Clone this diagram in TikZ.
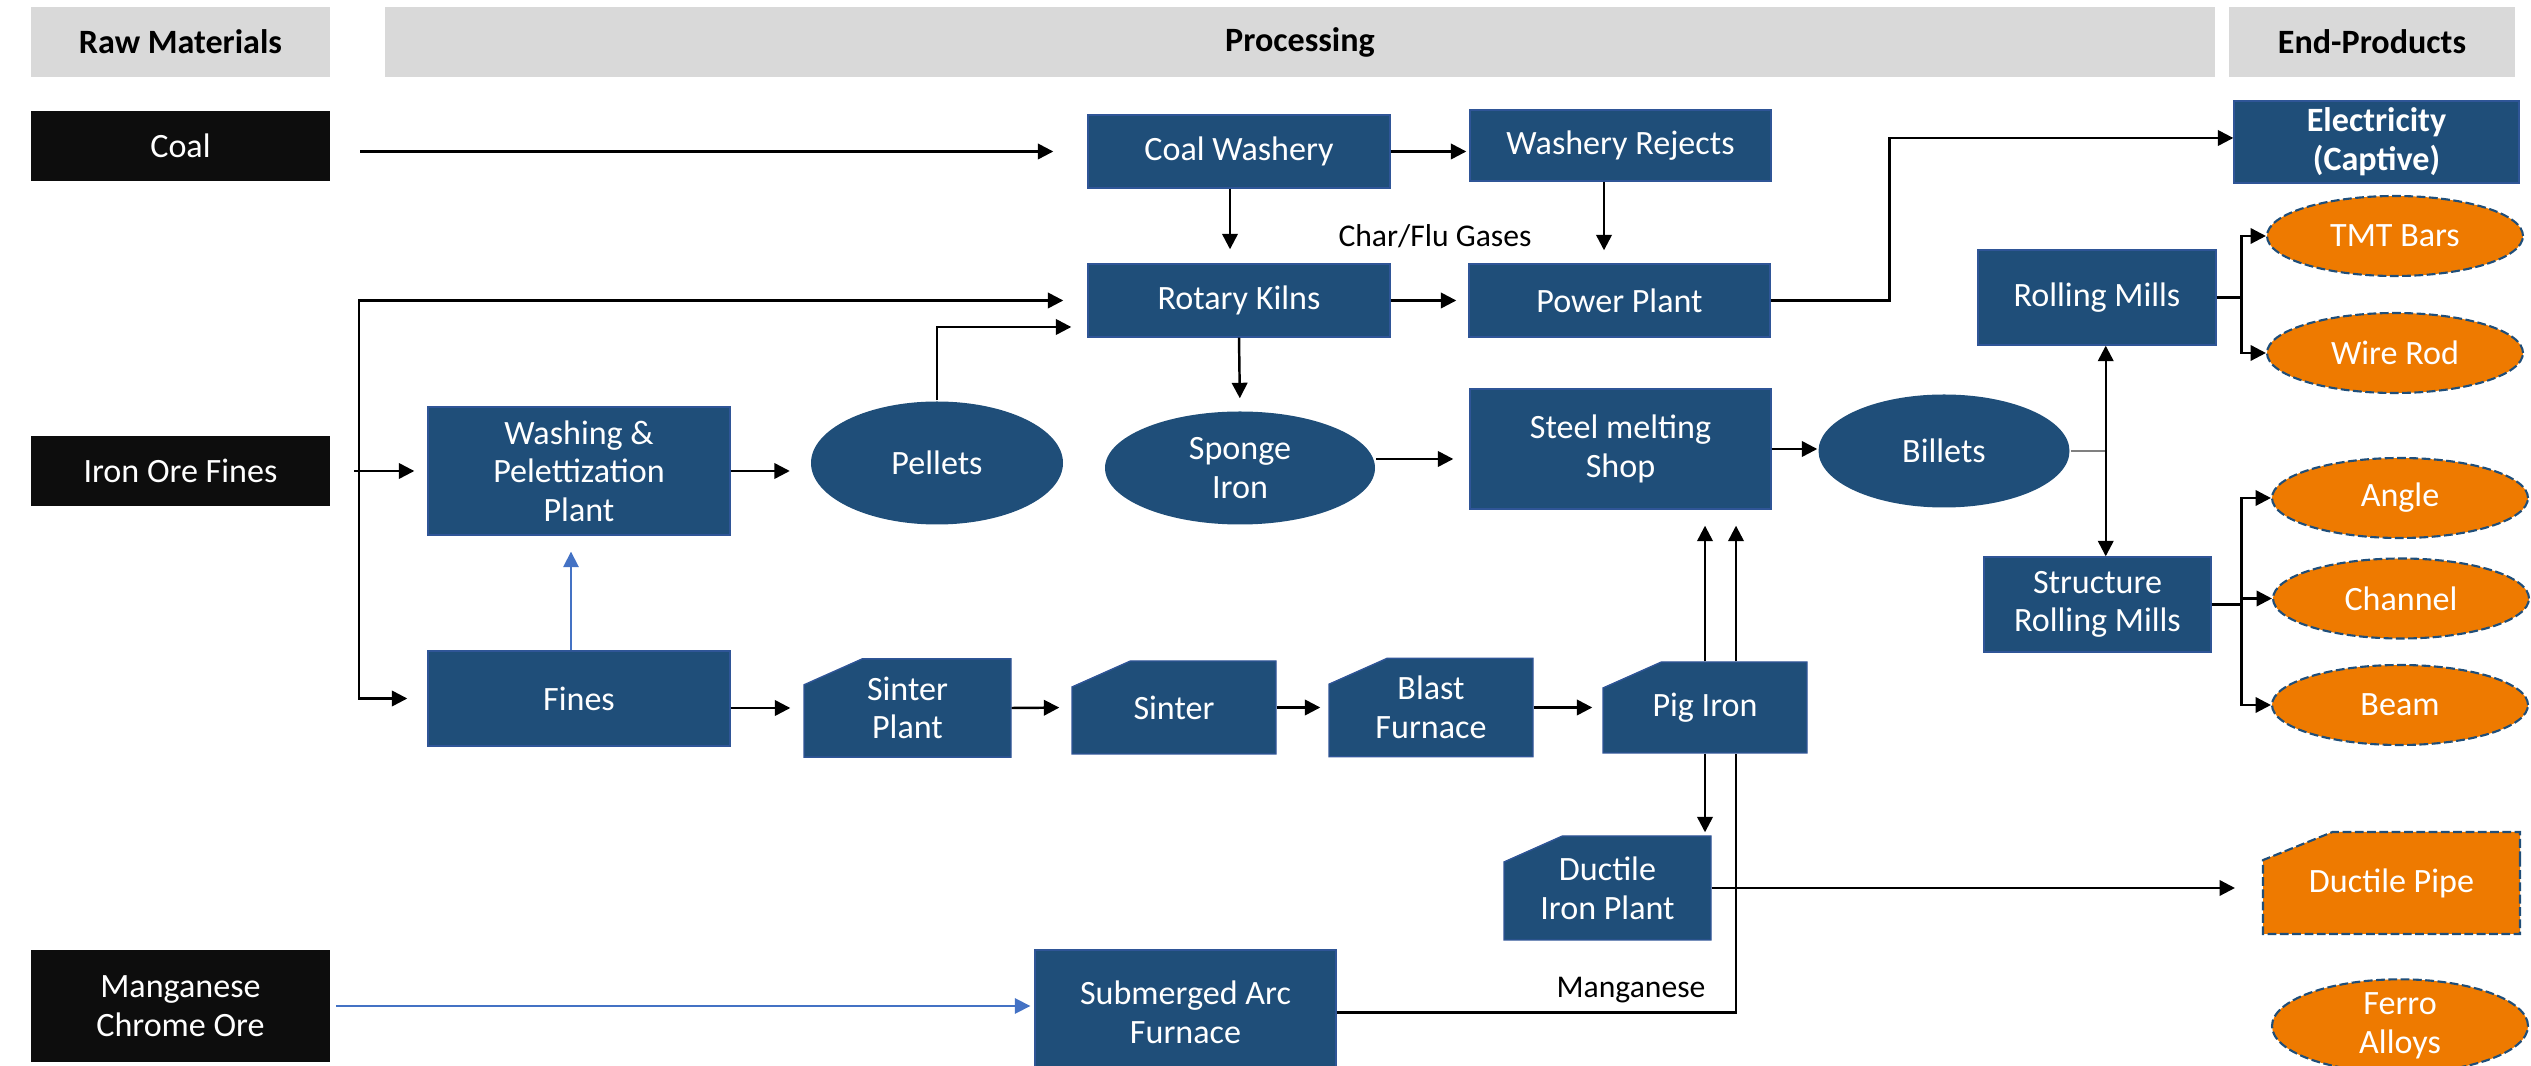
\documentclass[tikz,border=0pt]{standalone}
\usepackage{fontspec}
\setmainfont{Carlito}
\usetikzlibrary{arrows.meta, shapes.geometric, shapes.misc}

\definecolor{procblue}{RGB}{31,78,121}
\definecolor{edgeblue}{RGB}{47,85,151}
\definecolor{flowblue}{RGB}{68,114,196}
\definecolor{prodorange}{RGB}{238,122,0}
\definecolor{headgray}{RGB}{217,217,217}
\definecolor{rawblack}{RGB}{13,13,13}

\tikzset{
  every node/.style={font=\fontsize{9.7}{11}\selectfont},
  head/.style={fill=headgray, font=\fontsize{9.7}{11}\selectfont\bfseries, minimum height=0.7cm, inner sep=0pt},
  raw/.style={fill=rawblack, text=white, minimum width=2.99cm, inner sep=0pt, align=center},
  proc/.style={fill=procblue, draw=edgeblue, line width=0.4pt, text=white, inner sep=0pt, align=center},
  blob/.style={ellipse, fill=procblue, text=white, inner sep=0pt, align=center},
  cut/.style={proc, chamfered rectangle, chamfered rectangle corners=north west, chamfered rectangle angle=66, chamfered rectangle xsep=0.18cm, chamfered rectangle ysep=0.18cm},
  prod/.style={ellipse, fill=prodorange, draw=procblue, dash pattern=on 2.5pt off 1pt, line width=0.6pt, text=white, inner sep=0pt, align=center, minimum width=2.56cm, minimum height=0.8cm},
  pipebox/.style={cut, fill=prodorange, draw=procblue, dash pattern=on 2.5pt off 1pt, line width=0.6pt, chamfered rectangle angle=68, chamfered rectangle xsep=0.2cm, chamfered rectangle ysep=0.2cm},
  lbl/.style={font=\fontsize{9}{11}\selectfont, inner sep=0pt}
}

\begin{document}
\begin{tikzpicture}[line width=0.7pt, >={Triangle[length=4.4pt,width=4.4pt]}]
  \useasboundingbox (0,0) rectangle (25.31,-10.66);

  \node[head, minimum width=2.99cm] (hraw) at (1.805,-0.42) {Raw Materials};
  \node[head, minimum width=18.30cm] (hproc) at (13.00,-0.42) {Processing};
  \node[head, minimum width=2.86cm] (hend) at (23.72,-0.42) {End-Products};

  \node[raw, minimum height=0.7cm] (coal) at (1.805,-1.46) {Coal};
  \node[raw, minimum height=0.7cm] (ironore) at (1.805,-4.71) {Iron Ore Fines};
  \node[raw, minimum height=1.11cm] (mnore) at (1.805,-10.06) {Manganese\\Chrome Ore};

  \node[proc, minimum width=3.02cm, minimum height=0.73cm] (washery) at (12.39,-1.515) {Coal Washery};
  \node[proc, minimum width=3.01cm, minimum height=0.71cm] (rejects) at (16.205,-1.455) {Washery Rejects};
  \node[proc, minimum width=3.02cm, minimum height=0.73cm] (kilns) at (12.39,-3.005) {Rotary Kilns};
  \node[proc, minimum width=3.01cm, minimum height=0.73cm] (power) at (16.195,-3.005) {Power Plant};
  \node[proc, minimum width=3.02cm, minimum height=1.28cm] (washing) at (5.79,-4.71) {Washing \&\\Pelettization\\Plant};
  \node[blob, minimum width=2.52cm, minimum height=1.23cm] (pellets) at (9.37,-4.63) {Pellets};
  \node[blob, minimum width=2.70cm, minimum height=1.13cm] (sponge) at (12.40,-4.68) {Sponge\\Iron};
  \node[proc, minimum width=3.01cm, minimum height=1.20cm] (steel) at (16.205,-4.49) {Steel melting\\Shop};
  \node[blob, minimum width=2.51cm, minimum height=1.13cm] (billets) at (19.44,-4.51) {Billets};
  \node[proc, minimum width=2.38cm, minimum height=0.95cm] (rolling) at (20.97,-2.975) {Rolling Mills};
  \node[proc, minimum width=2.27cm, minimum height=0.95cm] (structure) at (20.975,-6.045) {Structure\\Rolling Mills};
  \node[proc, minimum width=3.02cm, minimum height=0.95cm] (fines) at (5.79,-6.985) {Fines};
  \node[cut, minimum width=2.07cm, minimum height=0.94cm] (sinterplant) at (9.075,-7.08) {Sinter\\Plant};
  \node[cut, minimum width=2.04cm, minimum height=0.93cm] (sinter) at (11.74,-7.075) {Sinter};
  \node[cut, minimum width=2.04cm, minimum height=0.93cm] (blast) at (14.31,-7.075) {Blast\\Furnace};
  \node[cut, minimum width=2.04cm, minimum height=0.91cm] (pig) at (17.05,-7.075) {Pig Iron};
  \node[cut, minimum width=2.07cm, minimum height=1.04cm] (ductile) at (16.075,-8.88) {Ductile\\Iron Plant};
  \node[proc, minimum width=3.01cm, minimum height=1.25cm] (saf) at (11.855,-10.125) {Submerged Arc\\Furnace};

  \node[proc, font=\fontsize{9.7}{11}\selectfont\bfseries, minimum width=2.85cm, minimum height=0.82cm] (elec) at (23.765,-1.42) {Electricity\\(Captive)};
  \node[prod] (tmt) at (23.95,-2.36) {TMT Bars};
  \node[prod] (wire) at (23.95,-3.53) {Wire Rod};
  \node[prod] (angle) at (24.00,-4.98) {Angle};
  \node[prod] (channel) at (24.01,-5.985) {Channel};
  \node[prod] (beam) at (24.00,-7.05) {Beam};
  \node[pipebox, minimum width=2.57cm, minimum height=1.02cm] (pipe) at (23.915,-8.83) {Ductile Pipe};
  \node[prod] (ferro) at (24.00,-10.26) {Ferro\\Alloys};

  \node[lbl] (charlbl) at (14.35,-2.36) {Char/Flu Gases};
  \node[lbl] (mnlbl) at (16.31,-9.90) {Manganese};

  \draw[->, shorten <=0.29cm, shorten >=0.34cm] (coal.east |- washery.west) -- (washery.west);
  \draw[->, shorten >=0.03cm] (washery.east) -- (washery.east -| rejects.west);
  \draw[->, shorten >=0.14cm] ([xshift=-0.09cm]washery.south) -- ([xshift=-0.09cm]washery.south |- kilns.north);
  \draw[->, shorten >=0.13cm] ([xshift=-0.165cm]rejects.south) -- ([xshift=-0.165cm]rejects.south |- power.north);
  \draw[->, shorten >=0.12cm] (kilns.east) -- (power.west);

  \coordinate (orebus) at ([xshift=0.28cm]ironore.east);
  \draw[->, shorten >=0.24cm] (orebus) |- (kilns.west);
  \draw[->, shorten >=0.2cm] (orebus) |- (fines.west);
  \draw[->, shorten >=0.13cm] ([xshift=-0.05cm]orebus) -- (orebus -| washing.west);

  \draw[->, shorten >=0.2cm] (washing.east) -- (washing.east -| pellets.west);
  \draw[->, shorten >=0.16cm] (pellets.north) |- ([yshift=-0.265cm]kilns.west);
  \draw[->, shorten >=0.12cm] (kilns.south) -- (sponge.north);
  \draw[->, shorten >=0.16cm] ([yshift=0.09cm]sponge.east) -- ([yshift=0.09cm]sponge.east -| steel.west);
  \draw[->] (steel.east) -- (steel.east -| billets.west);

  \coordinate (billbus) at ([xshift=0.35cm]billets.east);
  \draw[gray, line width=0.4pt] (billets.east) -- (billbus);
  \draw[->] (billbus) -- (billbus |- rolling.south);
  \draw[->] (billbus) -- (billbus |- structure.north);

  \draw[->] (power.east) -- ++(1.19,0) |- ([yshift=0.04cm]elec.west);

  \coordinate (rollbus) at ([xshift=0.25cm]rolling.east);
  \draw (rolling.east) -- (rollbus);
  \draw[->] (rollbus) |- (tmt.west);
  \draw[->] (rollbus) |- (wire.west);

  \coordinate (structbus) at ([xshift=0.3cm]structure.east);
  \draw (structure.east) -- (structbus);
  \draw[->] (structbus) |- (angle.west);
  \draw[->] (structbus) |- (channel.west);
  \draw[->] (structbus) |- (beam.west);

  \draw[->, flowblue, line width=0.5pt, shorten >=0.16cm] ([xshift=-0.08cm]fines.north) -- ([xshift=-0.08cm]washing.south);
  \draw[->, shorten >=0.13cm] (fines.east |- sinterplant.west) -- (sinterplant.west);
  \draw[->, shorten >=0.12cm] (sinterplant.east) -- (sinter.west);
  \draw[->, shorten >=0.08cm] (sinter.east) -- (blast.west);
  \draw[->, shorten >=0.1cm] (blast.east) -- (pig.west);

  \draw[->, shorten >=0.16cm] (pig.north) -- (pig.north |- steel.south);
  \draw[->, shorten >=0.03cm] (pig.south) -- (pig.south |- ductile.north);
  \draw (saf.east) -| ([xshift=0.31cm]pig.south);
  \draw[->, shorten >=0.16cm] ([xshift=0.31cm]pig.north) -- ([xshift=0.31cm]pig.north |- steel.south);
  \draw[->, shorten >=0.27cm] (ductile.east) -- (ductile.east -| pipe.west);

  \draw[->, flowblue, line width=0.5pt, shorten <=0.05cm, shorten >=0.04cm] (mnore.east) -- (mnore.east -| saf.west);
\end{tikzpicture}
\end{document}
